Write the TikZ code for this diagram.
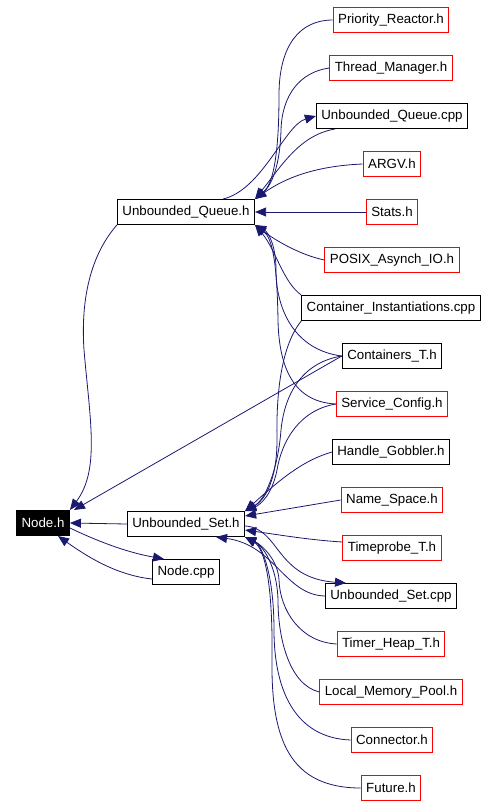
\documentclass[tikz,border=0pt]{standalone}
\usepackage{fontspec}
\setmainfont{Liberation Sans}
\usepackage{tikz}
\usetikzlibrary{arrows.meta}
\definecolor{navy}{HTML}{191970}
\tikzset{
  incl/.style={draw, line width=1pt, minimum height=25pt, inner xsep=5pt, inner ysep=0pt, font=\fontsize{13.3}{16}\selectfont},
  nodoc/.style={incl, draw=red},
  dep/.style={draw=navy, line width=0.8pt, -{Triangle[length=11pt,width=9pt]}}
}

\begin{document}
\begin{tikzpicture}[x=1pt,y=-1pt]
\useasboundingbox (0,0) rectangle (496,806);
\node[incl,fill=black,text=white] (nodeh) at (43,523) {Node.h};
\node[incl] (uqh) at (186,212) {Unbounded\_Queue.h};
\node[incl] (ush) at (186,524) {Unbounded\_Set.h};
\node[incl] (ncpp) at (186,572) {Node.cpp};
\node[nodoc] (pr) at (391,20) {Priority\_Reactor.h};
\node[nodoc] (tm) at (391,68) {Thread\_Manager.h};
\node[incl] (uqcpp) at (392,116) {Unbounded\_Queue.cpp};
\node[nodoc] (argv) at (392,164) {ARGV.h};
\node[nodoc] (stats) at (392,212) {Stats.h};
\node[nodoc] (posix) at (392,260) {POSIX\_Asynch\_IO.h};
\node[incl] (ci) at (391,308) {Container\_Instantiations.cpp};
\node[incl] (ct) at (392,356) {Containers\_T.h};
\node[nodoc] (sc) at (392,404) {Service\_Config.h};
\node[incl] (hg) at (391,452) {Handle\_Gobbler.h};
\node[nodoc] (ns) at (392,500) {Name\_Space.h};
\node[nodoc] (tp) at (392,548) {Timeprobe\_T.h};
\node[incl] (uscpp) at (391,596) {Unbounded\_Set.cpp};
\node[nodoc] (th) at (391,644) {Timer\_Heap\_T.h};
\node[nodoc] (lmp) at (391,692) {Local\_Memory\_Pool.h};
\node[nodoc] (conn) at (392,740) {Connector.h};
\node[nodoc] (fut) at (391,788) {Future.h};

\draw[dep] (pr.west) .. controls (300,20) and (279,45) .. (279,95) .. controls (279,160) and (272,185) .. (uqh.north east);
\draw[dep] (tm.west) .. controls (300,72) and (282,95) .. (281,130) .. controls (280,165) and (272,185) .. (uqh.north east);
\draw[dep] ([xshift=-57]uqcpp.south) .. controls (300,135) and (282,165) .. (uqh.north east);
\draw[dep] ([xshift=37]uqh.north) .. controls (262,190) and (285,125) .. (uqcpp.west);
\draw[dep] (argv.west) .. controls (315,166) and (285,178) .. (uqh.north east);
\draw[dep] (stats.west) -- (uqh.east);
\draw[dep] (posix.west) .. controls (300,255) and (275,240) .. (uqh.south east);
\draw[dep] (ci.north west) .. controls (283,282) and (276,250) .. (uqh.south east);
\draw[dep] (ct.west) .. controls (295,350) and (276,310) .. (276,270) .. controls (276,245) and (268,232) .. (uqh.south east);
\draw[dep] (sc.west) .. controls (295,402) and (279,370) .. (278,320) .. controls (277,260) and (272,238) .. (uqh.south east);

\draw[dep] (uqh.south west) .. controls (95,250) and (80,290) .. (84,350) .. controls (90,420) and (100,470) .. (nodeh.north east);
\draw[dep] (ct.west) -- ([xshift=4]nodeh.north east);
\draw[dep] (ush.west) -- (nodeh.east);
\draw[dep] ([yshift=-5]nodeh.east) .. controls (95,540) and (125,552) .. ([xshift=-22]ncpp.north);
\draw[dep] ([yshift=-7]ncpp.west) .. controls (115,575) and (85,555) .. ([xshift=15]nodeh.south);

\draw[dep] (ci.south west) .. controls (282,345) and (276,390) .. (277,440) .. controls (277,480) and (265,500) .. (ush.north east);
\draw[dep] (ct.west) .. controls (305,362) and (285,390) .. (281,430) .. controls (278,470) and (265,500) .. (ush.north east);
\draw[dep] (sc.west) .. controls (300,410) and (282,440) .. (277,470) .. controls (272,495) and (260,505) .. (ush.north east);
\draw[dep] (hg.west) .. controls (305,460) and (285,475) .. (ush.north east);
\draw[dep] (ns.west) -- ([yshift=8]ush.east);
\draw[dep] ([yshift=6]tp.west) .. controls (310,540) and (280,535) .. ([yshift=-6]ush.east);
\draw[dep] ([yshift=-2]ush.east) .. controls (280,528) and (275,578) .. ([xshift=-45]uscpp.north);
\draw[dep] (uscpp.west) .. controls (285,595) and (275,545) .. ([xshift=30]ush.south);
\draw[dep] (th.west) .. controls (300,642) and (280,610) .. (279,580) .. controls (278,560) and (262,545) .. (ush.south east);
\draw[dep] (lmp.west) .. controls (290,685) and (278,640) .. (278,600) .. controls (277,565) and (262,545) .. (ush.south east);
\draw[dep] (conn.west) .. controls (295,738) and (274,690) .. (274,630) .. controls (274,575) and (262,545) .. (ush.south east);
\draw[dep] (fut.west) .. controls (290,788) and (271,740) .. (272,660) .. controls (273,580) and (264,548) .. (ush.south east);
\end{tikzpicture}
\end{document}
